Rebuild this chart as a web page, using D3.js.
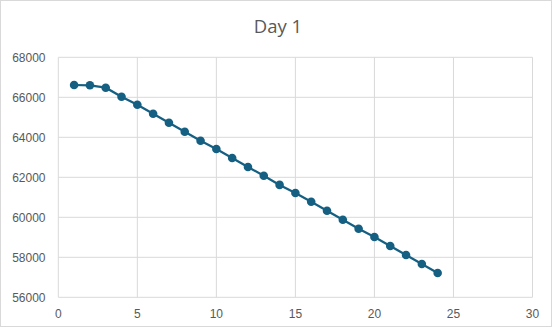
<!DOCTYPE html>
<html><head><meta charset="utf-8">
<script src="https://cdn.jsdelivr.net/npm/d3@7"></script>
<style>body{margin:0;background:#fff}svg{display:block}</style>
</head><body>
<script>
const xValues = [1,2,3,4,5,6,7,8,9,10,11,12,13,14,15,16,17,18,19,20,21,22,23,24];
const yValues = [66615,66600,66480,66030,65630,65180,64730,64280,63830,63415,62965,62515,62080,61620,61215,60780,60330,59880,59430,59015,58565,58115,57665,57215];
const xTicks = [0,5,10,15,20,25,30];
const yTicks = [56000,58000,60000,62000,64000,66000,68000];
const title = "Day 1";

const W = 552, H = 327;
const svg = d3.select("body").append("svg").attr("width", W).attr("height", H);
svg.append("rect").attr("x",0.5).attr("y",0.5).attr("width",W-1).attr("height",H-1)
  .attr("fill","#fff").attr("stroke","#d9d9d9");

const x = d3.scaleLinear().domain([0,30]).range([58.3,532.5]);
const y = d3.scaleLinear().domain([56000,68000]).range([297.3,57.3]);

const tfont = "'Open Sans', sans-serif";
const font = "'Liberation Sans', Arial, sans-serif";
svg.append("text").attr("x",278).attr("y",32.5).attr("text-anchor","middle")
  .attr("font-family",tfont).attr("font-size",18.5).attr("fill","#595959").text(title);

const g = svg.append("g");
g.selectAll(".hg").data(yTicks).join("line")
  .attr("x1",x(0)).attr("x2",x(30)).attr("y1",d=>y(d)).attr("y2",d=>y(d))
  .attr("stroke","#d9d9d9").attr("stroke-width",1);
g.selectAll(".vg").data(xTicks).join("line")
  .attr("x1",d=>x(d)).attr("x2",d=>x(d)).attr("y1",y(56000)).attr("y2",y(68000))
  .attr("stroke","#d9d9d9").attr("stroke-width",1);

g.selectAll(".yl").data(yTicks).join("text")
  .attr("x",45.5).attr("y",d=>y(d)+4.3).attr("text-anchor","end")
  .attr("font-family",font).attr("font-size",12).attr("fill","#595959").text(d=>d);
g.selectAll(".xl").data(xTicks).join("text")
  .attr("x",d=>x(d)).attr("y",318).attr("text-anchor","middle")
  .attr("font-family",font).attr("font-size",12).attr("fill","#595959").text(d=>d);

const pts = xValues.map((v,i)=>[v,yValues[i]]);
const color = "#156082";
svg.append("path").datum(pts)
  .attr("d", d3.line().x(d=>x(d[0])).y(d=>y(d[1])))
  .attr("fill","none").attr("stroke",color).attr("stroke-width",2.25);
svg.selectAll(".pt").data(pts).join("circle")
  .attr("cx",d=>x(d[0])).attr("cy",d=>y(d[1])).attr("r",4.3).attr("fill",color);
</script>
</body></html>
